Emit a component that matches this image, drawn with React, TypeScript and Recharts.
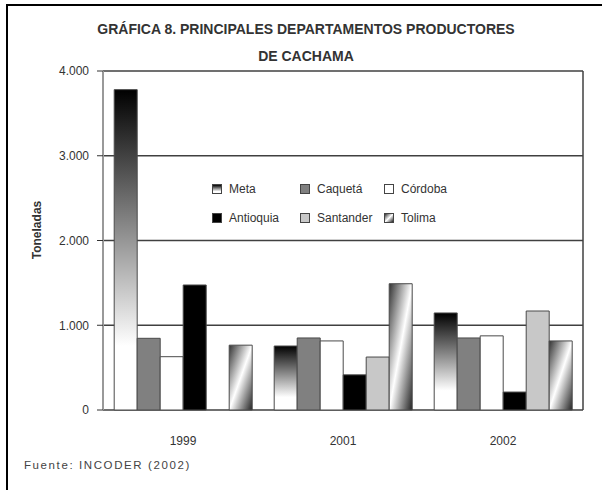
import React from 'react';
import {
  BarChart,
  Bar,
  XAxis,
  YAxis,
  CartesianGrid,
  Legend,
} from 'recharts';

const years = ['1999', '2001', '2002'];
const meta = [3780, 755, 1145];
const caqueta = [846, 850, 850];
const cordoba = [629, 815, 875];
const antioquia = [1475, 415, 212];
const santander = [0, 625, 1168];
const tolima = [765, 1490, 815];
const yTicks = [0, 1000, 2000, 3000, 4000];
const boundaryTicks = [0, 1, 2, 3];

const data = years.map((year, i) => ({
  year,
  Meta: meta[i],
  'Caquetá': caqueta[i],
  'Córdoba': cordoba[i],
  Antioquia: antioquia[i],
  Santander: santander[i],
  Tolima: tolima[i],
}));

// fills for bars (svg) and legend swatches (css)
const series = [
  { key: 'Meta', fill: 'url(#gradMeta)', css: 'linear-gradient(to bottom, #000 0%, #fff 80%)' },
  { key: 'Caquetá', fill: '#808080', css: '#808080' },
  { key: 'Córdoba', fill: '#ffffff', css: '#ffffff' },
  { key: 'Antioquia', fill: '#000000', css: '#000000' },
  { key: 'Santander', fill: '#c8c8c8', css: '#c8c8c8' },
  { key: 'Tolima', fill: 'url(#gradTolima)', css: 'linear-gradient(135deg, #333 0%, #fff 50%, #222 100%)' },
];

// legend is laid out Excel-style: 2 rows x 3 columns
const legendOrder = ['Meta', 'Caquetá', 'Córdoba', 'Antioquia', 'Santander', 'Tolima'];
const legendColWidths = [88, 84, 90];

const fmt = (v: number) => (v === 0 ? '0' : v.toLocaleString('de-DE'));

const FONT = '"Liberation Sans", Arial, sans-serif';

const LegendBox = () => (
  <div
    style={{
      display: 'grid',
      gridTemplateColumns: legendColWidths.map((w) => `${w}px`).join(' '),
      rowGap: 11,
      fontFamily: FONT,
      fontSize: 12,
      color: '#333',
    }}
  >
    {legendOrder.map((name) => {
      const s = series.find((x) => x.key === name)!;
      return (
        <div key={name} style={{ display: 'flex', alignItems: 'center', height: 18 }}>
          <span
            style={{
              display: 'inline-block',
              width: 8,
              height: 8,
              border: '1px solid #444',
              background: s.css,
              marginRight: 7,
            }}
          />
          <span>{name}</span>
        </div>
      );
    })}
  </div>
);

export default function App() {
  return (
    <div
      style={{
        position: 'absolute',
        left: 0,
        top: 0,
        width: 602,
        height: 490,
        background: '#fff',
        overflow: 'hidden',
        fontFamily: FONT,
      }}
    >
      {/* cropped frame: only top and left edges show */}
      <div
        style={{
          position: 'absolute',
          left: 6,
          top: 4,
          width: 620,
          height: 500,
          borderTop: '2px solid #000',
          borderLeft: '2px solid #000',
        }}
      />
      <div
        style={{
          position: 'absolute',
          left: 0,
          width: 612,
          top: 16,
          textAlign: 'center',
          fontFamily: '"Liberation Sans Narrow", "Arial Narrow", ' + FONT,
          fontWeight: 'bold',
          fontSize: 14,
          lineHeight: '27px',
          color: '#333',
        }}
      >
        <div>GRÁFICA 8. PRINCIPALES DEPARTAMENTOS PRODUCTORES</div>
        <div>DE CACHAMA</div>
      </div>
      <div
        style={{
          position: 'absolute',
          left: 37,
          top: 230,
          transform: 'translate(-50%, -50%) rotate(-90deg)',
          fontWeight: 'bold',
          fontSize: 12,
          color: '#333',
          whiteSpace: 'nowrap',
        }}
      >
        Toneladas
      </div>
      <div
        style={{
          position: 'absolute',
          left: 24,
          top: 459,
          fontSize: 11.5,
          letterSpacing: 1.6,
          color: '#444',
        }}
      >
        Fuente: INCODER (2002)
      </div>
      <BarChart
        width={602}
        height={490}
        data={data}
        margin={{ top: 71, right: 18, left: 43, bottom: 40 }}
        barCategoryGap="7%"
        barGap={0}
      >
        <defs>
          <linearGradient id="gradMeta" x1="0" y1="0" x2="0" y2="1">
            <stop offset="0%" stopColor="#000" />
            <stop offset="80%" stopColor="#fff" />
            <stop offset="100%" stopColor="#fff" />
          </linearGradient>
          <linearGradient id="gradTolima" x1="0" y1="0" x2="1" y2="1">
            <stop offset="0%" stopColor="#333" />
            <stop offset="50%" stopColor="#fff" />
            <stop offset="100%" stopColor="#222" />
          </linearGradient>
        </defs>
        <CartesianGrid vertical={false} stroke="#404040" strokeWidth={1.5} />
        <XAxis
          xAxisId="b"
          type="number"
          domain={[0, 3]}
          ticks={boundaryTicks}
          tickFormatter={() => ''}
          height={0}
          tickSize={4}
          axisLine={{ stroke: '#444', strokeWidth: 1.5 }}
          tickLine={{ stroke: '#444' }}
        />
        <XAxis
          dataKey="year"
          height={40}
          axisLine={false}
          tickLine={false}
          tickSize={0}
          tickMargin={26}
          tick={{ fill: '#333', fontSize: 12, fontFamily: FONT }}
        />
        <YAxis
          domain={[0, 4000]}
          ticks={yTicks}
          width={60}
          tickSize={6}
          tickMargin={8}
          tickFormatter={fmt}
          axisLine={{ stroke: '#999', strokeWidth: 2 }}
          tickLine={{ stroke: '#333' }}
          tick={{ fill: '#333', fontSize: 12, fontFamily: FONT }}
        />
        <YAxis
          yAxisId="r"
          orientation="right"
          domain={[0, 4000]}
          width={1}
          tick={false}
          tickLine={false}
          axisLine={{ stroke: '#404040', strokeWidth: 1.5 }}
        />
        <Legend
          content={() => <LegendBox />}
          layout="horizontal"
          verticalAlign="middle"
          align="center"
          wrapperStyle={{ left: 212, top: 180, width: 270 }}
        />
        {series.map((s) => (
          <Bar
            key={s.key}
            dataKey={s.key}
            fill={s.fill}
            stroke="#4a4a4a"
            strokeWidth={1}
            isAnimationActive={false}
          />
        ))}
      </BarChart>
    </div>
  );
}
